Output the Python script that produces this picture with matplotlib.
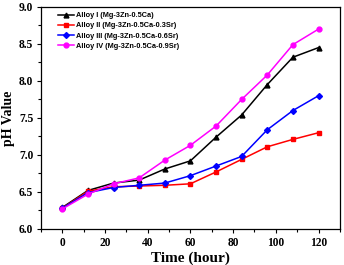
import numpy as np
import matplotlib
matplotlib.use('Agg')
import matplotlib.pyplot as plt
from matplotlib.ticker import MultipleLocator

# 數據
time_h = [0, 12, 24, 36, 48, 60, 72, 84, 96, 108, 120]
alloy1 = [6.29, 6.52, 6.62, 6.66, 6.81, 6.92, 7.24, 7.54, 7.95, 8.32, 8.45]
alloy2 = [6.28, 6.51, 6.57, 6.58, 6.59, 6.61, 6.77, 6.94, 7.11, 7.21, 7.30]
alloy3 = [6.28, 6.49, 6.56, 6.59, 6.62, 6.72, 6.85, 6.98, 7.34, 7.60, 7.80]
alloy4 = [6.27, 6.47, 6.61, 6.69, 6.93, 7.13, 7.39, 7.75, 8.08, 8.49, 8.70]

labels = ['Alloy I (Mg-3Zn-0.5Ca)',
          'Alloy II (Mg-3Zn-0.5Ca-0.3Sr)',
          'Alloy III (Mg-3Zn-0.5Ca-0.6Sr)',
          'Alloy IV (Mg-3Zn-0.5Ca-0.9Sr)']

fig = plt.figure(figsize=(3.44, 2.65), dpi=100)
ax = fig.add_axes([0.119, 0.136, 0.869, 0.838])

ax.plot(time_h, alloy1, color='black', marker='^', ms=3.5, lw=1.1, label=labels[0])
ax.plot(time_h, alloy2, color='red', marker='s', ms=3, lw=1.1, label=labels[1])
ax.plot(time_h, alloy3, color='blue', marker='D', ms=3, lw=1.1, label=labels[2])
ax.plot(time_h, alloy4, color='magenta', marker='o', ms=3.5, lw=1.1, label=labels[3])

ax.set_xlim(-10, 130)
ax.set_ylim(6.0, 9.0)
ax.xaxis.set_major_locator(MultipleLocator(20))
ax.xaxis.set_minor_locator(MultipleLocator(10))
ax.yaxis.set_major_locator(MultipleLocator(0.5))
ax.yaxis.set_minor_locator(MultipleLocator(0.25))
ax.yaxis.set_major_formatter(plt.FormatStrFormatter('%.1f'))
ax.tick_params(which='major', length=3, width=0.8, direction='out', pad=2.5)
ax.tick_params(which='minor', length=2, width=0.8, direction='out')

serif = {'family': 'Liberation Serif', 'weight': 'bold'}
for lab in ax.get_xticklabels() + ax.get_yticklabels():
    lab.set_fontfamily('Liberation Serif')
    lab.set_fontweight('bold')
    lab.set_fontsize(8.3)

ax.set_xlabel('Time (hour)', fontdict=serif, fontsize=11, labelpad=2)
ax.set_ylabel('pH Value', fontdict=serif, fontsize=10, labelpad=3)

for sp in ax.spines.values():
    sp.set_linewidth(0.9)

ax.legend(loc='upper left', frameon=False, handlelength=2.2, handletextpad=0.3,
          labelspacing=0.42, borderaxespad=0.3, bbox_to_anchor=(0.04, 1.0),
          prop={'family': 'Liberation Sans', 'weight': 'bold', 'size': 5.3})

fig.savefig('out.png', dpi=100)
